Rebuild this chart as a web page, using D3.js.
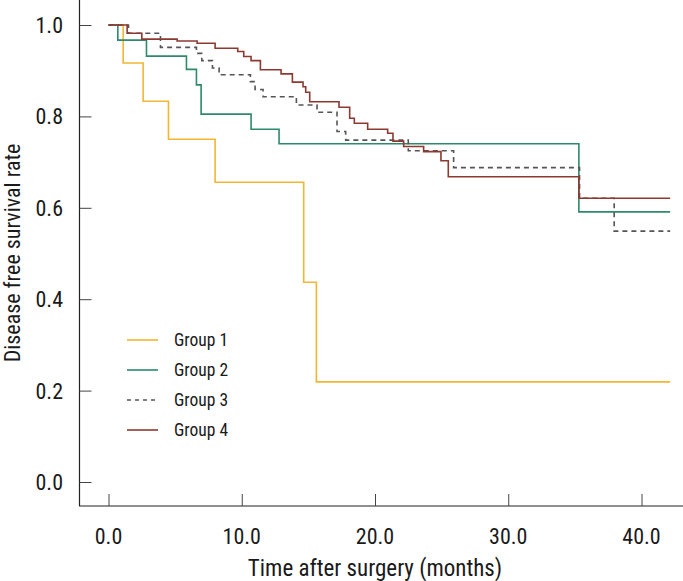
<!DOCTYPE html>
<html><head><meta charset="utf-8">
<script src="https://cdn.jsdelivr.net/npm/d3@7/dist/d3.min.js"></script>
<style>
body{margin:0;background:#fff;}
text{font-family:"Liberation Sans Narrow","Roboto Condensed","Arial Narrow",sans-serif;fill:#1a1a1a;}
</style></head>
<body>
<svg id="chart" width="683" height="581"></svg>
<script>
// Data: step points [time (months), survival]
const groups = ["Group 1","Group 2","Group 3","Group 4"];
const group1 = [[0,1],[1.1,0.917],[2.6,0.833],[4.5,0.75],[8.0,0.656],[14.65,0.437],[15.6,0.219],[42.15,0.219]];
const group2 = [[0,1],[0.7,0.967],[2.85,0.932],[5.85,0.903],[6.6,0.869],[6.95,0.805],[10.7,0.772],[12.8,0.740],[35.3,0.591],[42.15,0.591]];
const group3 = [[0,1],[1.5,0.982],[3.9,0.951],[6.6,0.938],[7.0,0.922],[7.8,0.906],[8.3,0.891],[10.65,0.876],[11.0,0.859],[11.6,0.843],[14.1,0.825],[15.65,0.809],[17.15,0.767],[17.8,0.748],[22.5,0.725],[25.9,0.688],[35.35,0.621],[37.95,0.549],[42.15,0.549]];
const group4 = [[0,1],[1.4,0.982],[2.5,0.969],[5.15,0.965],[6.65,0.960],[8.0,0.949],[9.7,0.942],[10.15,0.931],[10.7,0.922],[11.4,0.902],[12.95,0.893],[13.8,0.875],[14.6,0.865],[14.8,0.853],[15.1,0.832],[17.3,0.820],[18.1,0.796],[18.45,0.785],[19.45,0.772],[20.95,0.763],[21.35,0.746],[22.15,0.734],[23.65,0.723],[24.95,0.703],[25.5,0.668],[35.3,0.621],[42.15,0.621]];
const xTicks = [0,10,20,30,40];
const yTicks = [0,0.2,0.4,0.6,0.8,1.0];
const colors = ["#f2b634","#2e8a6b","#555555","#8c3a31"];
const dashes = [null,null,"5,4",null];
const series = [group1,group2,group3,group4];

const svg = d3.select("#chart");
const x = d3.scaleLinear().domain([0,40]).range([108.5,641.5]);
const y = d3.scaleLinear().domain([0,1]).range([482,25]);

// axes lines
svg.append("line").attr("x1",79.5).attr("x2",79.5).attr("y1",0).attr("y2",506).attr("stroke","#222").attr("stroke-width",1.2);
svg.append("line").attr("x1",79).attr("x2",683).attr("y1",506).attr("y2",506).attr("stroke","#222").attr("stroke-width",1.2);

// y ticks
const yAxis = d3.axisRight(y).tickValues(yTicks).tickSize(12).tickFormat("");
const gy = svg.append("g").attr("transform","translate(79.5,0)").call(yAxis);
gy.select(".domain").remove();
gy.selectAll("line").attr("stroke","#444");
svg.selectAll(".ylab").data(yTicks).enter().append("text")
  .attr("x",63).attr("y",d=>y(d)).attr("dy","0.36em").attr("text-anchor","end")
  .attr("font-size",22).text(d=>d3.format(".1f")(d));

// x ticks
const xAxis = d3.axisTop(x).tickValues(xTicks).tickSize(12).tickFormat("");
const gx = svg.append("g").attr("transform","translate(0,506)").call(xAxis);
gx.select(".domain").remove();
gx.selectAll("line").attr("stroke","#444");
svg.selectAll(".xlab").data(xTicks).enter().append("text")
  .attr("x",d=>x(d)).attr("y",544).attr("text-anchor","middle")
  .attr("font-size",22).text(d=>d3.format(".1f")(d));

// titles
svg.append("text").attr("x",375).attr("y",576).attr("text-anchor","middle").attr("font-size",23)
  .text("Time after surgery (months)");
svg.append("text").attr("transform","translate(20,253) rotate(-90)").attr("text-anchor","middle").attr("font-size",22)
  .text("Disease free survival rate");

// curves
const line = d3.line().x(d=>x(d[0])).y(d=>y(d[1])).curve(d3.curveStepAfter);
series.forEach((s,i)=>{
  svg.append("path").datum(s).attr("d",line).attr("fill","none")
    .attr("stroke",colors[i]).attr("stroke-width",1.6)
    .attr("stroke-dasharray",dashes[i]);
});

// legend
const leg = svg.append("g");
groups.forEach((g,i)=>{
  const yy = 340 + i*30;
  leg.append("line").attr("x1",127).attr("x2",158).attr("y1",yy).attr("y2",yy)
    .attr("stroke",colors[i]).attr("stroke-width",1.6).attr("stroke-dasharray",dashes[i]?"4,4":null);
  leg.append("text").attr("x",174).attr("y",yy).attr("dy","0.36em").attr("font-size",17.5).text(g);
});
</script>
</body></html>
